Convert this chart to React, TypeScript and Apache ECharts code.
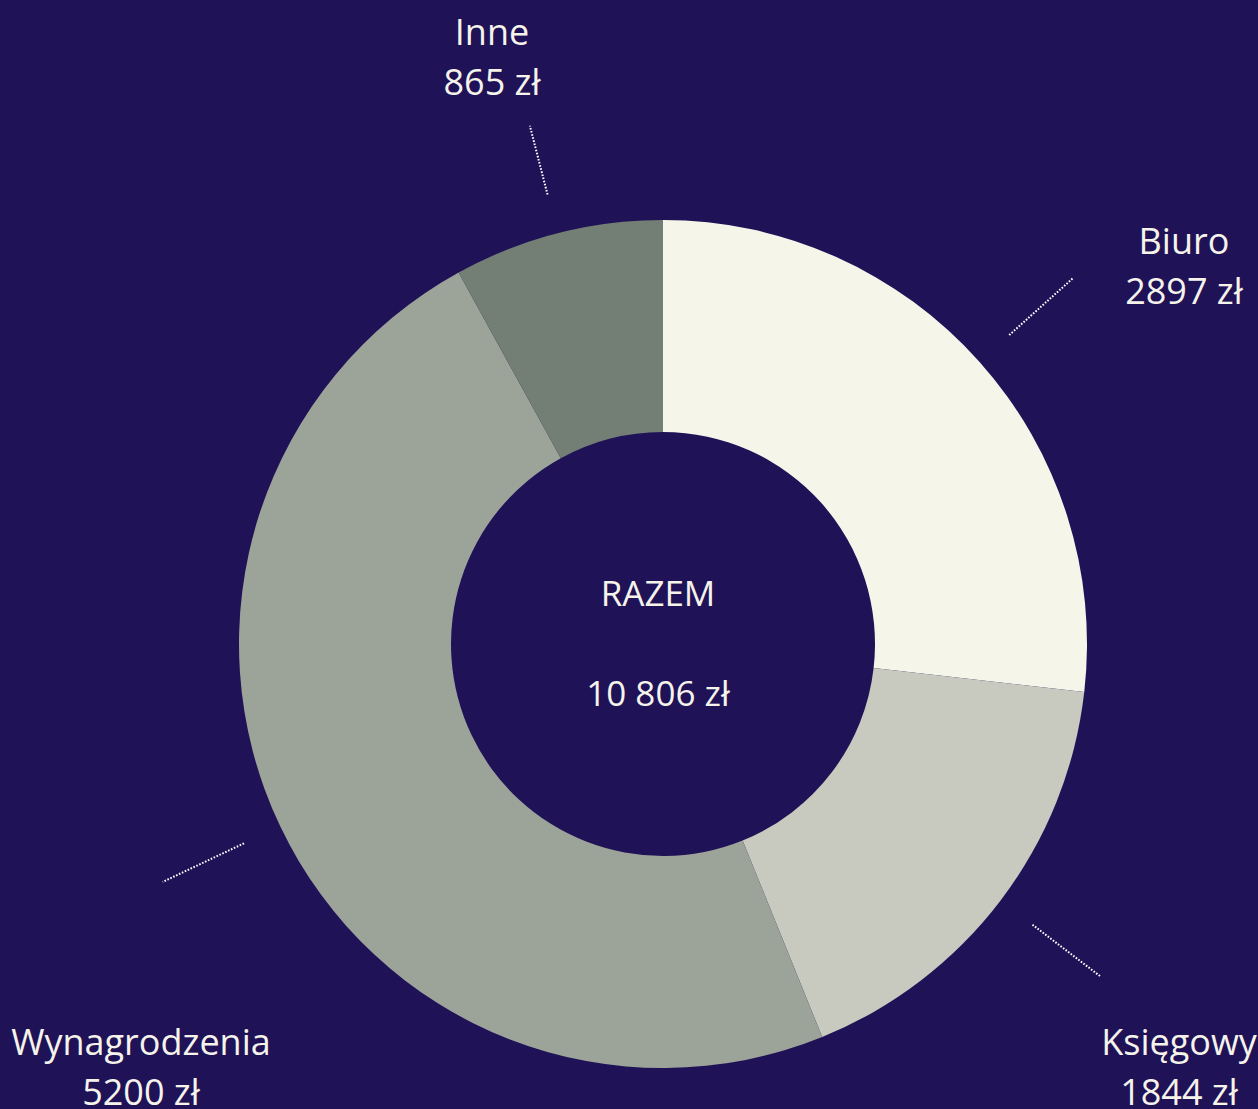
import React, { useEffect, useRef } from "react";
import * as echarts from "echarts";

const categories = ["Biuro", "Księgowy", "Wynagrodzenia", "Inne"];
const values = [2897, 1844, 5200, 865];
const colors = ["#f6f5ea", "#c8c9bf", "#9ca49a", "#737f74"];
const totalLabel = "RAZEM";
const currency = "zł";

// label block centres (layout only)
const labelAnchors: [number, number][] = [
  [1184, 265],
  [1179, 1066],
  [141, 1066],
  [492, 56],
];
// leader line lengths (layout only)
const leaderLengths = [85, 85, 90, 71];

const FONT = "'Open Sans', sans-serif";
const TEXT = "#f5f3ea";
const BG = "#1f1257";

function fmtThousands(n: number): string {
  return String(n).replace(/\B(?=(\d{3})+(?!\d))/g, " ");
}

export default function App() {
  const ref = useRef<HTMLDivElement>(null);
  useEffect(() => {
    if (!ref.current) return;
    const chart = echarts.init(ref.current, undefined, { renderer: "svg" });
    const data = categories.map((name, i) => ({
      name,
      value: values[i],
      itemStyle: { color: colors[i] },
    }));
    const ghostLines = categories.map((name, i) => ({
      name,
      value: values[i],
      labelLine: { length: leaderLengths[i] },
    }));
    const ghost = categories.map((name, i) => ({ name, value: values[i] }));
    const total = values.reduce((a, b) => a + b, 0);
    const center = [663, 644];
    chart.setOption({
      animation: false,
      backgroundColor: BG,
      series: [
        {
          type: "pie",
          center,
          radius: [212, 424],
          startAngle: 90,
          clockwise: true,
          silent: true,
          label: { show: false },
          labelLine: { show: false },
          itemStyle: { borderWidth: 0 },
          data,
        },
        {
          type: "pie",
          center,
          radius: [0, 464],
          startAngle: 90,
          clockwise: true,
          silent: true,
          avoidLabelOverlap: false,
          itemStyle: { color: "rgba(0,0,0,0)", borderWidth: 0 },
          label: {
            show: true,
            position: "outside",
            formatter: " ",
            color: "rgba(0,0,0,0)",
            fontSize: 2,
          },
          labelLine: {
            show: true,
            length: 84,
            length2: 0,
            smooth: false,
            lineStyle: { color: "#ffffff", width: 2, type: [1.6, 1.6] },
          },
          data: ghostLines,
        },
        {
          type: "pie",
          center,
          radius: [0, 424],
          startAngle: 90,
          clockwise: true,
          silent: true,
          avoidLabelOverlap: false,
          itemStyle: { color: "rgba(0,0,0,0)", borderWidth: 0 },
          label: {
            show: true,
            position: "outside",
            formatter: (p: any) => `${p.name}\n${p.value} ${currency}`,
            color: TEXT,
            fontFamily: FONT,
            fontSize: 36,
            lineHeight: 50,
            align: "center",
          },
          labelLine: { show: false },
          labelLayout: (p: any) => {
            const a = labelAnchors[p.dataIndex];
            return { x: a[0], y: a[1], align: "center", verticalAlign: "middle" };
          },
          data: ghost,
        },
      ],
      graphic: [
        {
          type: "text",
          x: 658,
          y: 592,
          style: {
            text: totalLabel,
            fill: TEXT,
            font: `35px ${FONT}`,
            textAlign: "center",
            textVerticalAlign: "middle",
          },
        },
        {
          type: "text",
          x: 658,
          y: 692,
          style: {
            text: `${fmtThousands(total)} ${currency}`,
            fill: TEXT,
            font: `35px ${FONT}`,
            textAlign: "center",
            textVerticalAlign: "middle",
          },
        },
      ],
    });
    return () => chart.dispose();
  }, []);
  return (
    <div
      ref={ref}
      style={{ position: "absolute", left: 0, top: 0, width: 1258, height: 1109 }}
    />
  );
}
